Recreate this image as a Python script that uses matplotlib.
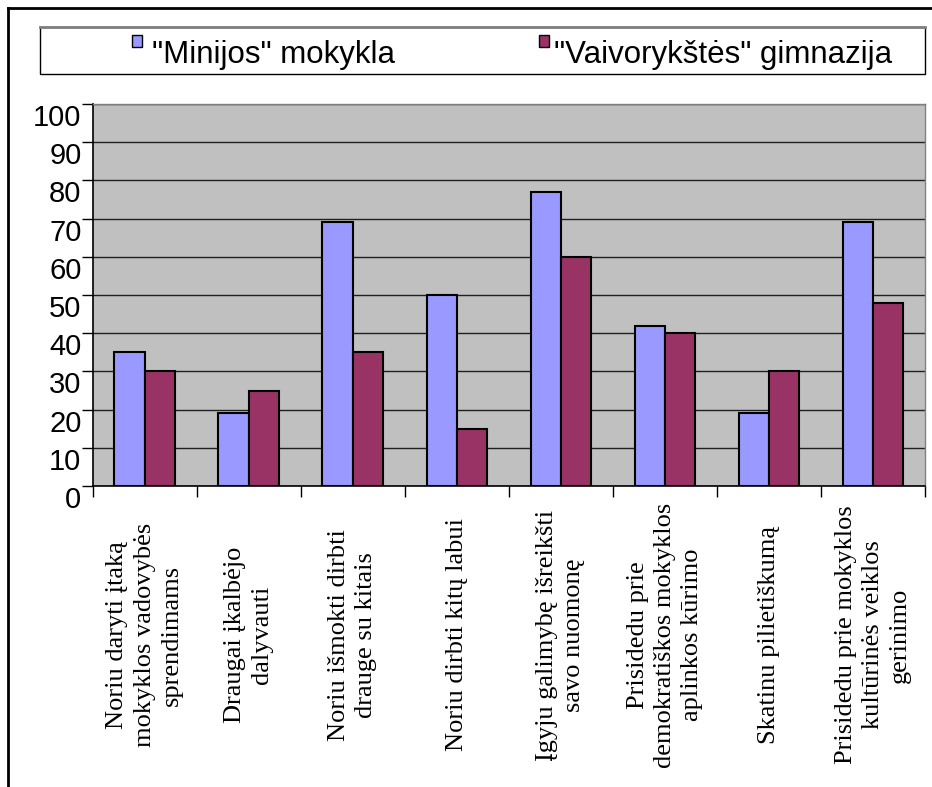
import matplotlib
matplotlib.use("Agg")
import matplotlib.pyplot as plt
import numpy as np
from matplotlib.lines import Line2D
from matplotlib.patches import Rectangle
from matplotlib.transforms import blended_transform_factory

categories = [
    "Noriu daryti įtaką\nmokyklos vadovybės\nsprendimams",
    "Draugai įkalbėjo\ndalyvauti",
    "Noriu išmokti dirbti\ndrauge su kitais",
    "Noriu dirbti kitų labui",
    "Įgyju galimybę išreikšti\nsavo nuomonę",
    "Prisidedu prie\ndemokratiškos mokyklos\naplinkos kūrimo",
    "Skatinu pilietiškumą",
    "Prisidedu prie mokyklos\nkultūrinės veiklos\ngerinimo",
]
minijos = [35, 19, 69, 50, 77, 42, 19, 69]
vaivorykstes = [30, 25, 35, 15, 60, 40, 30, 48]
series_names = ['"Minijos" mokykla', '"Vaivorykštės" gimnazija']
y_ticks = list(range(0, 101, 10))

BLUE = "#9999FF"
MAROON = "#993366"

W, H = 932, 787
fig = plt.figure(figsize=(W / 100, H / 100), dpi=100)
fig.patch.set_facecolor("white")

# plot area in pixel terms
left, right, top, bottom = 92.5, 925, 104, 486
ax = fig.add_axes([left / W, 1 - bottom / H, (right - left) / W, (bottom - top) / H])
ax.set_facecolor("#C0C0C0")

x = np.arange(len(categories))
bw = 0.29
ax.bar(x - bw / 2, minijos, bw, color=BLUE, edgecolor="black", linewidth=1.5, zorder=3)
ax.bar(x + bw / 2, vaivorykstes, bw, color=MAROON, edgecolor="black", linewidth=1.5, zorder=3)

ax.set_xlim(-0.5, len(categories) - 0.5)
ax.set_ylim(0, 100)
ax.set_yticks(y_ticks)
ax.set_yticklabels([str(v) for v in y_ticks], fontsize=21, family="Liberation Sans")
for lbl in ax.get_yticklabels():
    lbl.set_va("top")
ax.yaxis.grid(True, color="#202020", linewidth=1, zorder=1)
ax.set_axisbelow(True)

ax.set_xticks(np.arange(len(categories) + 1) - 0.5)
ax.set_xticklabels([])
ax.tick_params(axis="both", direction="out", length=8, width=1, color="black", pad=0)

for s in ["left", "bottom"]:
    ax.spines[s].set_color("black")
    ax.spines[s].set_linewidth(1.2)
for s in ["top", "right"]:
    ax.spines[s].set_color("#808080")
    ax.spines[s].set_linewidth(1)

trans = blended_transform_factory(ax.transData, ax.transAxes)
for i, lab in enumerate(categories):
    ax.text(i, -0.39, lab, transform=trans, rotation=90, ha="center", va="center",
            multialignment="center", fontsize=19, family="Liberation Serif",
            linespacing=1.3)

# legend box
fig.add_artist(Rectangle((40 / W, 1 - 74 / H), 885 / W, 47 / H, transform=fig.transFigure,
                         facecolor="white", edgecolor="black", linewidth=1))
fig.add_artist(Line2D([40 / W, 925 / W], [1 - 27 / H, 1 - 27 / H], transform=fig.transFigure,
                      color="#808080", linewidth=2))
for (mx, tx), name, col in zip([(132, 152), (539, 554)], series_names, [BLUE, MAROON]):
    fig.add_artist(Rectangle((mx / W, 1 - 47 / H), 10 / W, 12 / H, transform=fig.transFigure,
                             facecolor=col, edgecolor="black", linewidth=1))
    fig.text(tx / W, 1 - 55 / H, name, fontsize=22.5, family="Liberation Sans",
             ha="left", va="center")

# outer frame (top and left edges visible)
fig.add_artist(Line2D([8 / W, 1.0], [1 - 8 / H, 1 - 8 / H], transform=fig.transFigure,
                      color="black", linewidth=2))
fig.add_artist(Line2D([8 / W, 8 / W], [0, 1 - 8 / H], transform=fig.transFigure,
                      color="black", linewidth=2))

fig.savefig("out.png", dpi=100)
